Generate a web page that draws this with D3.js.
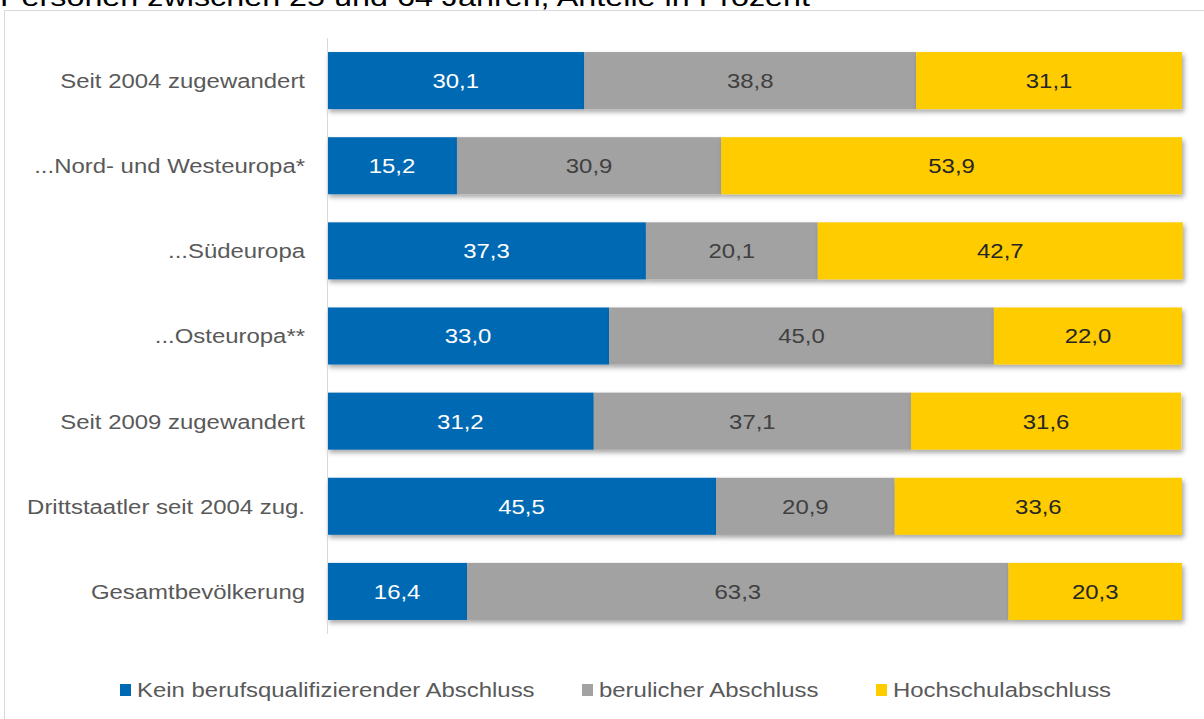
<!DOCTYPE html>
<html>
<head>
<meta charset="utf-8">
<script src="https://cdn.jsdelivr.net/npm/d3@7"></script>
<style>
  body { margin: 0; background: #fff; }
  svg { display: block; font-family: "Liberation Sans", Arial, sans-serif; }
</style>
</head>
<body>
<div id="chart"></div>
<script>
const categories = [
  "Seit 2004 zugewandert",
  "...Nord- und Westeuropa*",
  "...Südeuropa",
  "...Osteuropa**",
  "Seit 2009 zugewandert",
  "Drittstaatler seit 2004 zug.",
  "Gesamtbevölkerung"
];
const kein = [30.1, 15.2, 37.3, 33.0, 31.2, 45.5, 16.4];
const beruflich = [38.8, 30.9, 20.1, 45.0, 37.1, 20.9, 63.3];
const hochschule = [31.1, 53.9, 42.7, 22.0, 31.6, 33.6, 20.3];
const seriesNames = ["Kein berufsqualifizierender Abschluss", "berulicher Abschluss", "Hochschulabschluss"];
const colors = ["#0069b4", "#a2a2a2", "#ffcc00"];
const labelColors = ["#ffffff", "#404040", "#262626"];

const width = 1204, height = 719;
const margin = { top: 38, right: 22, bottom: 85, left: 327 };
const fs = 21, sx = 1.14; // text is a bit wider than plain Arial

const svg = d3.select("#chart").append("svg")
  .attr("width", width)
  .attr("height", height);

// wide text helper
function wtext(parent, x, y, str, anchor, color, size) {
  return parent.append("g")
    .attr("transform", `translate(${x},${y}) scale(${sx},1)`)
    .append("text")
    .attr("dy", "0.35em")
    .attr("text-anchor", anchor)
    .attr("font-size", size || fs)
    .attr("fill", color)
    .text(str);
}

// drop shadow for bars
const defs = svg.append("defs");
const f = defs.append("filter").attr("id", "shadow")
  .attr("x", "-5%").attr("y", "-20%").attr("width", "110%").attr("height", "150%");
f.append("feDropShadow").attr("dx", 2).attr("dy", 3).attr("stdDeviation", 2.5)
  .attr("flood-color", "#000").attr("flood-opacity", 0.35);

// title (cut off at top)
svg.append("text")
  .attr("x", 0).attr("y", 6)
  .attr("font-size", 26).attr("fill", "#000")
  .attr("textLength", 810).attr("lengthAdjust", "spacingAndGlyphs")
  .text("Personen zwischen 25 und 64 Jahren, Anteile in Prozent");

// chart border
svg.append("path")
  .attr("d", `M4.5,${height} V10.5 H${width}`)
  .attr("fill", "none").attr("stroke", "#d9d9d9").attr("stroke-width", 1);

const x = d3.scaleLinear().domain([0, 100]).range([margin.left, width - margin.right]);
const y = d3.scaleBand().domain(categories)
  .range([margin.top, height - margin.bottom]).paddingInner(0.33).paddingOuter(0.165);

const rows = categories.map((c, i) => ({ cat: c, v: [kein[i], beruflich[i], hochschule[i]] }));
const stack = d3.stack().keys([0, 1, 2]).value((d, k) => d.v[k]);
const series = stack(rows);

const g = svg.append("g");
series.forEach((s, k) => {
  g.selectAll(null).data(s).enter().append("rect")
    .attr("x", d => x(d[0]))
    .attr("y", d => y(d.data.cat))
    .attr("width", d => x(d[1]) - x(d[0]))
    .attr("height", y.bandwidth())
    .attr("fill", colors[k])
    .attr("filter", "url(#shadow)");
});
series.forEach((s, k) => {
  s.forEach(d => {
    wtext(g, (x(d[0]) + x(d[1])) / 2, y(d.data.cat) + y.bandwidth() / 2,
      d.data.v[k].toFixed(1).replace(".", ","), "middle", labelColors[k]);
  });
});

// y axis: line + category labels
svg.append("line")
  .attr("x1", margin.left + 0.5).attr("x2", margin.left + 0.5)
  .attr("y1", margin.top).attr("y2", height - margin.bottom)
  .attr("stroke", "#d9d9d9");
categories.forEach(c => {
  wtext(svg, margin.left - 22, y(c) + y.bandwidth() / 2, c, "end", "#595959");
});

// legend
const legendX = [120, 582, 876];
const leg = svg.append("g");
seriesNames.forEach((n, k) => {
  leg.append("rect")
    .attr("x", legendX[k]).attr("y", 684)
    .attr("width", 11).attr("height", 12)
    .attr("fill", colors[k]);
  wtext(leg, legendX[k] + 17, 690, n, "start", "#595959");
});
</script>
</body>
</html>
